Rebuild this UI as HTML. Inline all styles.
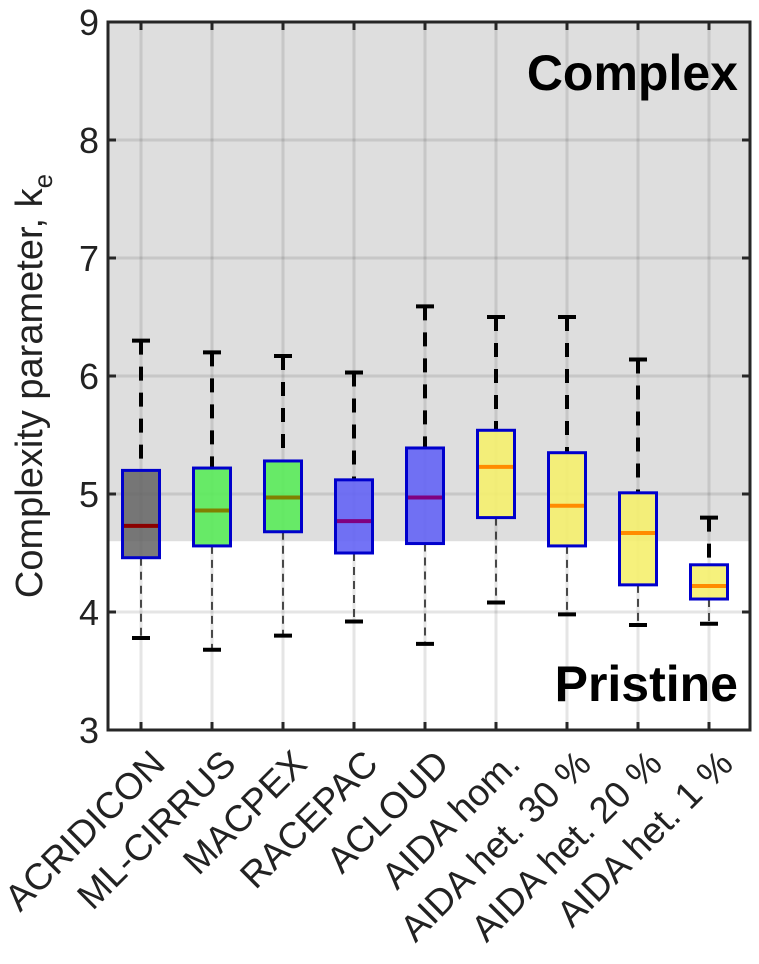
<!DOCTYPE html>
<html><head><meta charset="utf-8"><style>
body{margin:0;background:#fff}
svg{display:block;font-family:"Liberation Sans",sans-serif}
</style></head><body>
<svg id="c" width="759" height="964"></svg>
<script>
const categories=["ACRIDICON","ML-CIRRUS","MACPEX","RACEPAC","ACLOUD","AIDA hom.","AIDA het. 30 %","AIDA het. 20 %","AIDA het. 1 %"];
const whiskerHigh=[6.3,6.2,6.17,6.03,6.59,6.5,6.5,6.14,4.8];
const q3=[5.2,5.22,5.28,5.12,5.39,5.54,5.35,5.01,4.4];
const medians=[4.73,4.86,4.97,4.77,4.97,5.23,4.9,4.67,4.22];
const q1=[4.46,4.56,4.68,4.5,4.58,4.8,4.56,4.23,4.11];
const whiskerLow=[3.78,3.68,3.8,3.92,3.73,4.08,3.98,3.89,3.9];
const groups=["grey","green","green","blue","blue","yellow","yellow","yellow","yellow"];
const yTicks=[3,4,5,6,7,8,9];
const threshold=4.6;

const NS="http://www.w3.org/2000/svg";
const svg=document.getElementById('c');
const L=108,R=750,T=22,B=730;
const y=v=>B-(v-3)/6*(B-T);
const x=i=>141+i*71;
function mk(t,a,p){const e=document.createElementNS(NS,t);for(const k in a)e.setAttribute(k,a[k]);(p||svg).appendChild(e);return e;}
const fills={grey:"rgba(100,100,100,0.85)",green:"rgba(90,235,90,0.9)",blue:"rgba(100,100,245,0.9)",yellow:"rgba(245,240,110,0.9)"};
const meds={grey:"#8b0000",green:"#808000",blue:"#800080",yellow:"#ff8c00"};

let bg=mk('rect',{x:L,y:y(9),width:R-L,height:y(threshold)-y(9),fill:"#dedede"});


yTicks.forEach(t=>{
  let g=mk('line',{x1:L,x2:R,y1:y(t),y2:y(t),stroke:"rgba(0,0,0,0.1)","stroke-width":3});
  
  
});
categories.forEach((c,i)=>{
  let g=mk('line',{x1:x(i),x2:x(i),y1:T,y2:B,stroke:"rgba(0,0,0,0.1)","stroke-width":3});
  
  
});
let t1=mk('text',{x:738,y:90,"text-anchor":"end","font-size":50,"font-weight":"bold"});t1.textContent="Complex";


let t2=mk('text',{x:738,y:701,"text-anchor":"end","font-size":50,"font-weight":"bold"});t2.textContent="Pristine";



categories.forEach((c,i)=>{
  const g=mk('g',{});
  
  
  const cx=x(i);
  mk('line',{x1:cx,x2:cx,y1:y(whiskerHigh[i]),y2:y(q3[i]),stroke:"#000","stroke-width":4,"stroke-dasharray":"14 12"},g);
  mk('line',{x1:cx,x2:cx,y1:y(q1[i]),y2:y(whiskerLow[i]),stroke:"#222","stroke-width":1.6,"stroke-dasharray":"8 6"},g);
  mk('line',{x1:cx-9,x2:cx+9,y1:y(whiskerHigh[i]),y2:y(whiskerHigh[i]),stroke:"#000","stroke-width":4},g);
  mk('line',{x1:cx-9,x2:cx+9,y1:y(whiskerLow[i]),y2:y(whiskerLow[i]),stroke:"#000","stroke-width":4},g);
  mk('rect',{x:cx-18.5,y:y(q3[i]),width:37,height:y(q1[i])-y(q3[i]),fill:fills[groups[i]],stroke:"#0000cc","stroke-width":3},g);
  mk('line',{x1:cx-17,x2:cx+17,y1:y(medians[i]),y2:y(medians[i]),stroke:meds[groups[i]],"stroke-width":4},g);
  const lb=mk('text',{transform:`translate(${cx+26},766) rotate(-45)`,"text-anchor":"end","font-size":37,fill:"#222"});
  lb.textContent=c;
  
  
});

let ax=mk('rect',{x:L,y:T,width:R-L,height:B-T,fill:"none",stroke:"#262626","stroke-width":3});


yTicks.forEach(t=>{
  mk('line',{x1:L,x2:L+8,y1:y(t),y2:y(t),stroke:"#262626","stroke-width":3});
  mk('line',{x1:R-8,x2:R,y1:y(t),y2:y(t),stroke:"#262626","stroke-width":3});
  const lb=mk('text',{x:99,y:y(t)+13,"text-anchor":"end","font-size":36,fill:"#222"});
  lb.textContent=t;
  
  
});
categories.forEach((c,i)=>{
  mk('line',{x1:x(i),x2:x(i),y1:B,y2:B-8,stroke:"#262626","stroke-width":3});
  mk('line',{x1:x(i),x2:x(i),y1:T,y2:T+8,stroke:"#262626","stroke-width":3});
});
const yl=mk('text',{transform:"translate(42,386) rotate(-90)","text-anchor":"middle","font-size":38,fill:"#222"});
yl.innerHTML='Complexity parameter, k<tspan font-size="26" dy="10">e</tspan>';


</script>
</body></html>
